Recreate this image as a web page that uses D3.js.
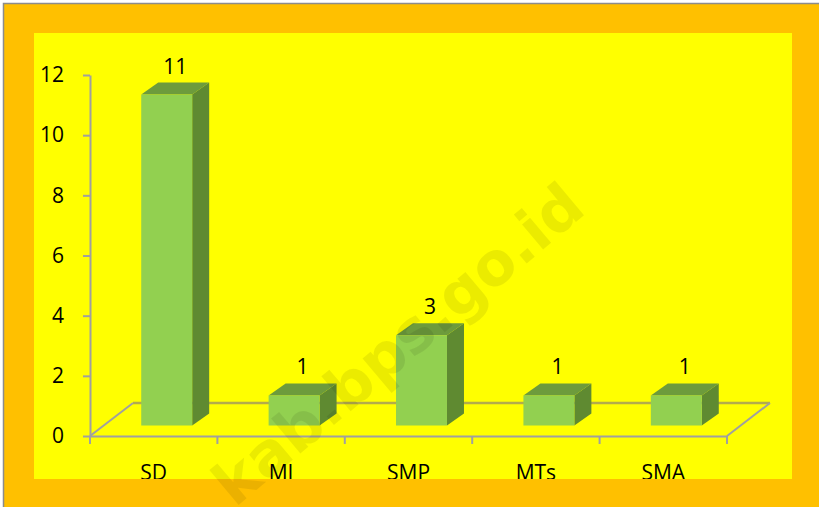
<!DOCTYPE html>
<html>
<head>
<meta charset="utf-8">
<script src="https://cdn.jsdelivr.net/npm/d3@7"></script>
<style>
  html, body { margin: 0; padding: 0; background: #fff; }
  svg { display: block; }
</style>
</head>
<body>
<div id="viz"></div>
<script>
const categories = ["SD", "MI", "SMP", "MTs", "SMA"];
const values = [11, 1, 3, 1, 1];
const yTicks = [0, 2, 4, 6, 8, 10, 12];
const watermark = "kab.bps.go.id";

const W = 819, H = 507;
const font = "'Open Sans', 'DejaVu Sans', sans-serif";

const svg = d3.select("#viz")
  .append("svg")
    .attr("width", W)
    .attr("height", H);

// outer frame + plot panel
svg.append("rect")
  .attr("x", 3.5).attr("y", 3.5)
  .attr("width", W + 20).attr("height", H + 20)
  .attr("fill", "#FFC000")
  .attr("stroke", "#8c8c8c")
  .attr("stroke-width", 1.5);

const panel = {x: 34, y: 33, w: 758, h: 446};
svg.append("rect")
  .attr("x", panel.x).attr("y", panel.y)
  .attr("width", panel.w).attr("height", panel.h)
  .attr("fill", "#FFFF00");

svg.append("clipPath").attr("id", "panelClip")
  .append("rect")
  .attr("x", panel.x).attr("y", panel.y)
  .attr("width", panel.w).attr("height", panel.h);

const x = d3.scaleBand()
  .domain(categories)
  .range([90, 727]);

const y = d3.scaleLinear()
  .domain([0, 12])
  .range([436, 75]);

// floor depth and bar depth (fake 3d)
const floorDx = 43, floorDy = -33;
const barDx = 17, barDy = -12;
const offDx = (floorDx - barDx) / 2, offDy = (floorDy - barDy) / 2;
const barW = x.bandwidth() * 0.4;

const axisColor = "#a0a0a0";
const x0 = x.range()[0], x1 = x.range()[1], yBase = y(0);

// back floor edge (behind bars)
svg.append("line")
  .attr("x1", x0 + floorDx).attr("y1", yBase + floorDy)
  .attr("x2", x1 + floorDx).attr("y2", yBase + floorDy)
  .attr("stroke", "#b3ab4c")
  .attr("stroke-width", 2.5);

svg.append("path")
  .attr("d", `M${x0},${yBase}L${x0 + floorDx},${yBase + floorDy}`)
  .attr("stroke", axisColor)
  .attr("stroke-width", 2)
  .attr("fill", "none");

svg.append("path")
  .attr("d", `M${x1},${yBase}L${x1 + floorDx},${yBase + floorDy}`)
  .attr("stroke", axisColor)
  .attr("stroke-width", 2)
  .attr("fill", "none");

// bars
const bars = svg.append("g")
  .selectAll("g")
  .data(categories.map((c, i) => ({cat: c, val: values[i]})))
  .join("g");

const barLeft = d => x(d.cat) + (x.bandwidth() - barW) / 2 + offDx;
const barBottom = yBase + offDy;
const barTop = d => y(d.val) + offDy;

bars.append("path")
  .attr("d", d => {
    const l = barLeft(d), r = l + barW, t = barTop(d);
    return `M${r},${t}L${r + barDx},${t + barDy}L${r + barDx},${barBottom + barDy}L${r},${barBottom}Z`;
  })
  .attr("fill", "#5f8a31");

bars.append("path")
  .attr("d", d => {
    const l = barLeft(d), r = l + barW, t = barTop(d);
    return `M${l},${t}L${l + barDx},${t + barDy}L${r + barDx},${t + barDy}L${r},${t}Z`;
  })
  .attr("fill", "#6d9b3c");

bars.append("rect")
  .attr("x", d => barLeft(d))
  .attr("y", d => barTop(d))
  .attr("width", barW)
  .attr("height", d => barBottom - barTop(d))
  .attr("fill", "#92d050");

bars.append("text")
  .attr("x", d => barLeft(d) + (barW + barDx) / 2)
  .attr("y", d => barTop(d) + barDy - 9)
  .attr("text-anchor", "middle")
  .style("font-family", font)
  .style("font-size", "21px")
  .attr("fill", "#000")
  .text(d => d.val);

// y axis
const yAxis = svg.append("g")
  .attr("transform", `translate(${x0},0)`)
  .call(d3.axisLeft(y).tickValues(yTicks).tickSize(7).tickSizeOuter(0).tickPadding(19));
yAxis.select(".domain").attr("stroke", axisColor).attr("stroke-width", 2);
yAxis.selectAll(".tick line").attr("stroke", axisColor).attr("stroke-width", 2);
yAxis.selectAll(".tick text")
  .style("font-family", font)
  .style("font-size", "21px")
  .attr("fill", "#000");

// x axis (front floor edge), labels clipped by the panel bottom
const xAxis = svg.append("g")
  .attr("clip-path", "url(#panelClip)")
  .append("g")
  .attr("transform", `translate(0,${yBase})`)
  .call(d3.axisBottom(x).tickSize(0).tickSizeOuter(0).tickPadding(29));
xAxis.select(".domain").attr("stroke", axisColor).attr("stroke-width", 2);
xAxis.selectAll(".tick text")
  .style("font-family", font)
  .style("font-size", "21px")
  .attr("fill", "#000");

// category separators
svg.append("g")
  .selectAll("line")
  .data(categories.concat(["_end"]))
  .join("line")
    .attr("x1", (d, i) => i < categories.length ? x(d) : x1)
    .attr("x2", (d, i) => i < categories.length ? x(d) : x1)
    .attr("y1", yBase)
    .attr("y2", yBase + 8)
    .attr("stroke", axisColor)
    .attr("stroke-width", 2);

// watermark
svg.append("text")
  .attr("transform", "translate(588,212) rotate(-40)")
  .attr("text-anchor", "end")
  .style("font-family", "'DejaVu Sans', sans-serif")
  .style("font-size", "60px")
  .style("font-weight", "bold")
  .attr("fill", "rgba(0,0,0,0.08)")
  .text(watermark);
</script>
</body>
</html>
